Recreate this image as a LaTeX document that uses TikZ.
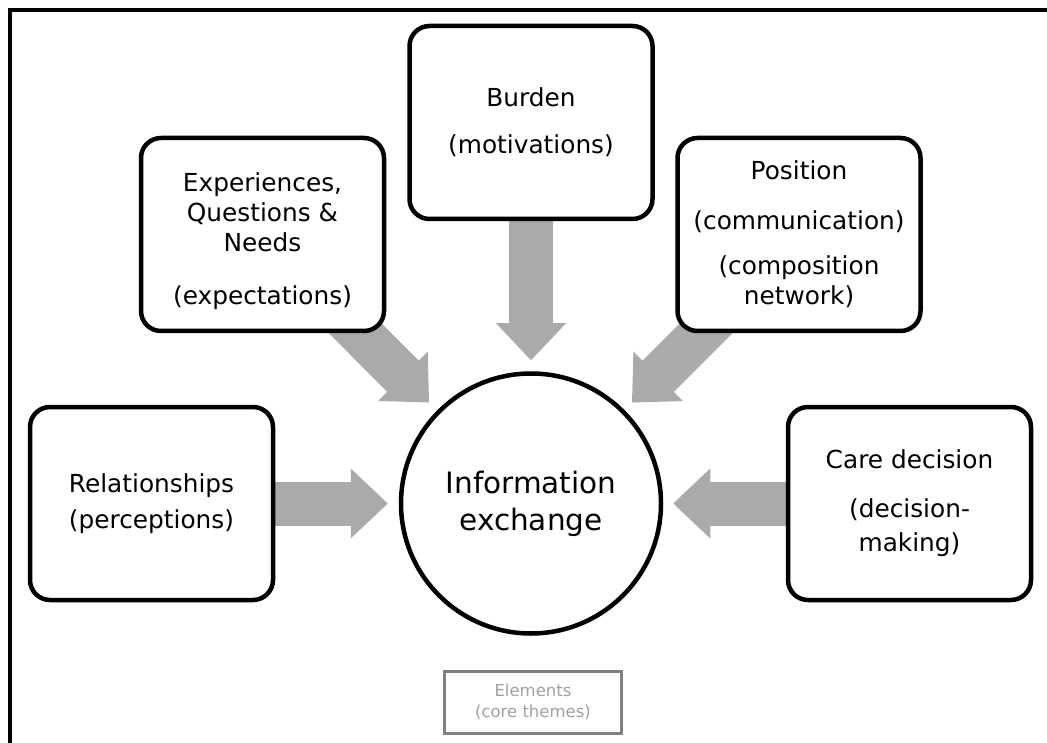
\documentclass[tikz,border=0pt]{standalone}
\usepackage{fontspec}
\setmainfont{DejaVu Sans}
\usetikzlibrary{arrows.meta,calc}
\pgfdeclarelayer{background}
\pgfsetlayers{background,main}
\definecolor{arrowgray}{HTML}{AAAAAA}
\definecolor{legendframe}{HTML}{808080}
\definecolor{legendtext}{HTML}{A0A0A0}
\begin{document}
\begin{tikzpicture}[x=1pt,y=-1pt,
  themetext/.style={align=center, inner sep=0pt, font=\fontsize{24.8}{30}\selectfont},
  theme/.style={draw=black, line width=4.5pt, rounded corners=20pt, fill=white,
    minimum width=243pt, minimum height=193pt, themetext},
  core/.style={circle, draw=black, line width=4.5pt, fill=white, minimum size=260pt,
    inner sep=0pt, align=center, font=\fontsize{29.5}{37}\selectfont},
  legendbox/.style={draw=legendframe, line width=3pt, minimum width=177pt,
    minimum height=62pt, inner sep=0pt, align=center, text=legendtext,
    font=\fontsize{16.5}{21}\selectfont},
  % shaft drawn once more, reaching into the head, so no seam shows
  blockarrow/.style={draw=arrowgray, line width=44pt,
    -{Triangle[length=37pt,width=70pt,line width=0pt]},
    preaction={draw=arrowgray, line width=44pt, -, shorten >=27pt}}
]
\useasboundingbox (0,0) rectangle (1047,743);
\clip (0,0) rectangle (1047,743);

% outer frame, running off the page on the right and bottom
\draw[line width=4pt] (9.5,10) rectangle (1080,780);

% central element
\node[core] (info) at (531,503.5) {Information\\exchange};

% themes around it
\node[theme] (rel)    at (151.5,503.5) {Relationships\\[6pt](perceptions)};
\node[theme, label={[themetext, yshift=-6.5pt]center:Experiences,\\Questions \&\\Needs\\[23pt](expectations)}]
  (eq) at (262.5,234.5) {};
\node[theme] (burden) at (531,122.5)   {Burden\\[17pt](motivations)};
\node[theme] (pos)    at (799,234.5)   {Position\\[20pt](communication)\\[15pt](composition\\network)};
\node[theme] (care)   at (909.5,503.5) {Care decision\\[19pt](decision-\\[4pt]making)};

% legend
\node[legendbox] (legend) at (533,702) {Elements\\(core themes)};

% block arrows pointing at the central element
\begin{pgfonlayer}{background}
  \draw[blockarrow] (rel.east) -- ($(info.west)+(-11,0)$);
  \draw[blockarrow] (care.west) -- ($(info.east)+(10,0)$);
  \draw[blockarrow] (burden.south) -- ($(info.north)+(0,-11)$);
  \draw[blockarrow] ($(eq.south east)+(-46,-20)$) -- ($(info.center)+(-102,-101)$);
  \draw[blockarrow] ($(pos.south west)+(46,-20)$) -- ($(info.center)+(101,-101)$);
\end{pgfonlayer}
\end{tikzpicture}
\end{document}
